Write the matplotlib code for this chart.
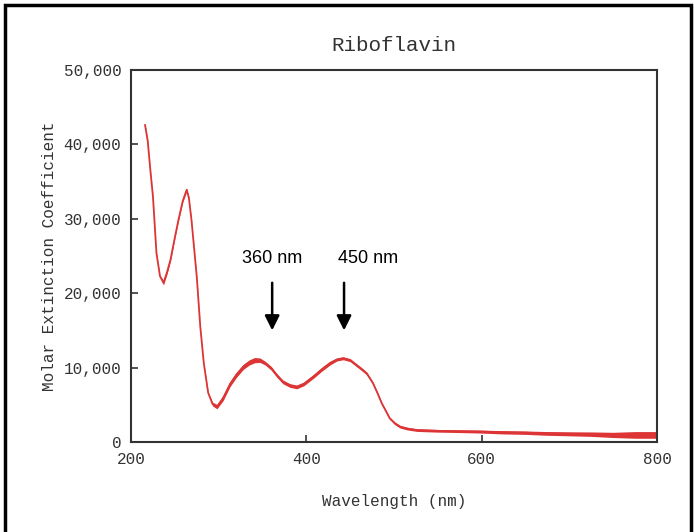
"""Riboflavin absorption spectrum"""

import matplotlib.pyplot as plt
from matplotlib.patches import Rectangle

# Values
wavelength = [216, 219, 222, 225, 229, 233, 237, 241, 245, 250, 254, 259, 263.5,
              266, 269, 272, 275, 279, 283, 288, 293, 298, 305, 313, 320, 328,
              335, 341, 347, 353, 360, 366, 373, 381, 389, 397, 408, 418, 427,
              435, 442, 450, 457, 463, 469, 476, 481, 486, 491, 495, 501, 507,
              515, 526, 550, 575, 598, 625, 650, 674, 700, 725, 750, 775, 800]
epsilon = [42600, 40500, 36600, 33000, 25400, 22300, 21400, 22800, 24500, 27500,
           29800, 32400, 33900, 32800, 29800, 26000, 22200, 15500, 10600, 6600,
           5100, 4750, 5900, 7800, 9000, 10100, 10700, 11000, 11000, 10600, 9900,
           9000, 8100, 7600, 7400, 7800, 8800, 9800, 10600, 11100, 11250, 11000,
           10350, 9800, 9200, 7900, 6600, 5200, 4100, 3200, 2500, 2050, 1800,
           1600, 1500, 1450, 1400, 1300, 1250, 1150, 1100, 1050, 950, 950, 950]
# half width of the noisy band around the trace
noise = [150, 100, 80, 80, 80, 100, 300, 250, 200, 150, 150, 150, 200, 100, 80,
         80, 80, 80, 80, 100, 250, 300, 350, 350, 350, 350, 350, 350, 300, 250,
         250, 250, 250, 250, 250, 250, 250, 250, 250, 200, 200, 200, 200, 200,
         180, 150, 150, 150, 150, 150, 180, 180, 180, 180, 180, 180, 200, 220,
         230, 250, 270, 300, 350, 450, 450]

peak_labels = ["360 nm", "450 nm"]
peak_arrow_x = [361, 443]
peak_text_x = [361, 470]

mono = "Liberation Mono"
red = "#dd3535"
ink = "#333333"

fig = plt.figure(figsize=(6.94, 5.32), dpi=100)
ax = fig.add_axes([0.1888, 0.1692, 0.7579, 0.6992])

lo = [e - n for e, n in zip(epsilon, noise)]
hi = [e + n for e, n in zip(epsilon, noise)]
ax.fill_between(wavelength, lo, hi, color=red, lw=0)
ax.plot(wavelength, epsilon, color=red, lw=1.3)

ax.set_xlim(200, 800)
ax.set_ylim(0, 50000)
ax.set_xticks([200, 400, 600, 800])
ax.set_yticks([0, 10000, 20000, 30000, 40000, 50000])
ax.set_yticklabels(["0", "10,000", "20,000", "30,000", "40,000", "50,000"])
ax.tick_params(direction="in", length=5, width=1.2, color=ink,
               labelsize=11.5, pad=7)
for lbl in ax.get_xticklabels() + ax.get_yticklabels():
    lbl.set_family(mono)
    lbl.set_color(ink)
for sp in ax.spines.values():
    sp.set_color(ink)
    sp.set_linewidth(1.5)

ax.set_title("Riboflavin", family=mono, fontsize=15, pad=14, color=ink)
ax.set_xlabel("Wavelength (nm)", family=mono, fontsize=11.5, labelpad=20,
              color=ink)
ax.set_ylabel("Molar Extinction Coefficient", family=mono, fontsize=11.5,
              labelpad=5, color=ink)

for lab, xa, xt in zip(peak_labels, peak_arrow_x, peak_text_x):
    ax.annotate("", xy=(xa, 15000), xytext=(xa, 21400),
                arrowprops=dict(arrowstyle="-|>", lw=1.8, color="black",
                                mutation_scale=22, shrinkA=0, shrinkB=0))
    ax.text(xt, 24700, lab, ha="center", va="center", fontsize=13,
            family="Liberation Sans", color="black")

# outer frame around the whole picture
fig.patches.append(Rectangle((5 / 694, -0.05), 686 / 694, 1.05 - 5 / 532,
                             transform=fig.transFigure, fill=False,
                             edgecolor="black", lw=2.5))

plt.savefig("out.png", dpi=100)
